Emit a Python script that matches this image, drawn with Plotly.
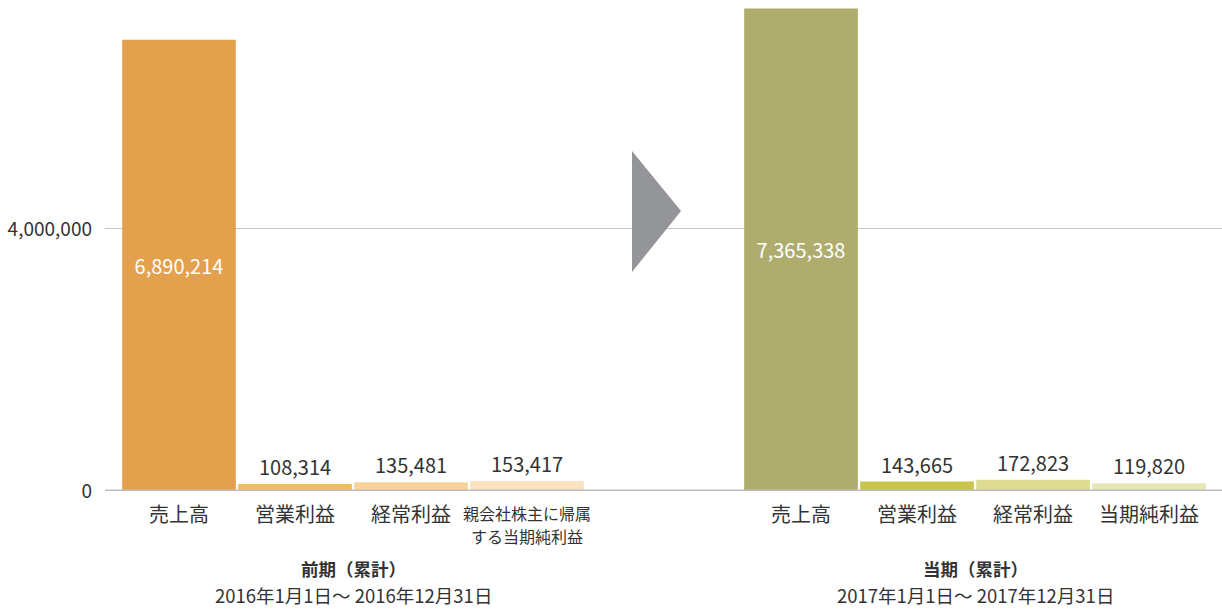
import plotly.graph_objects as go

# ---- data ----
categories_prev = ["売上高", "営業利益", "経常利益", "親会社株主に帰属<br>する当期純利益"]
values_prev = [6890214, 108314, 135481, 153417]
categories_curr = ["売上高", "営業利益", "経常利益", "当期純利益"]
values_curr = [7365338, 143665, 172823, 119820]
group_titles = ["前期（累計）", "当期（累計）"]
group_periods = ["2016年1月1日～ 2016年12月31日", "2017年1月1日～ 2017年12月31日"]
y_tickvals = [0, 4000000]
y_ticktext = ["0", "4,000,000"]

# ---- style ----
FONT = "Noto Sans CJK JP"
TEXT = "#333333"
colors_prev = ["#E3A14E", "#F0BC60", "#F6D39A", "#FBE3C0"]
colors_curr = ["#AEAD6D", "#C9C547", "#DEDC93", "#E7E6B6"]
GROUP_OFFSET = 5.362   # slot distance between group starts
BIG = 1_000_000

x_prev = [i for i in range(len(values_prev))]
x_curr = [i + GROUP_OFFSET for i in range(len(values_curr))]

def fmt(v):
    return f"{v:,}"

fig = go.Figure()
for xs, vals, cols in [(x_prev, values_prev, colors_prev), (x_curr, values_curr, colors_curr)]:
    fig.add_trace(go.Bar(
        x=xs, y=vals,
        marker=dict(color=cols, line=dict(width=0)),
        width=0.98,
        text=[fmt(v) for v in vals],
        textposition=["inside" if v > BIG else "outside" for v in vals],
        insidetextanchor="middle",
        textfont=dict(family=FONT, size=20,
                      color=["#FFFFFF" if v > BIG else TEXT for v in vals]),
        constraintext="none",
        cliponaxis=False,
        hoverinfo="skip",
        showlegend=False,
    ))

annotations = []
for xs, cats in [(x_prev, categories_prev), (x_curr, categories_curr)]:
    for x, c in zip(xs, cats):
        lines = c.split("<br>")
        multi = len(lines) > 1
        for k, line in enumerate(lines):
            annotations.append(dict(
                x=x, y=0, xref="x", yref="paper", yanchor="middle",
                yshift=-22 - 23 * k, text=line, showarrow=False, borderpad=0,
                font=dict(family=FONT, size=16 if multi else 20, color=TEXT),
            ))

for xs, title, period in [(x_prev, group_titles[0], group_periods[0]),
                          (x_curr, group_titles[1], group_periods[1])]:
    cx = (xs[0] + xs[-1]) / 2
    annotations.append(dict(x=cx, y=0, xref="x", yref="paper", yanchor="middle",
                            yshift=-77, text=f"<b>{title}</b>", showarrow=False,
                            borderpad=0,
                            font=dict(family=FONT, size=17.5, color=TEXT)))
    annotations.append(dict(x=cx, y=0, xref="x", yref="paper", yanchor="middle",
                            yshift=-104, text=period, showarrow=False,
                            borderpad=0,
                            font=dict(family=FONT, size=18.5, color=TEXT)))

shapes = [
    # baseline
    dict(type="line", xref="paper", yref="y", x0=0, x1=1, y0=0, y1=0,
         line=dict(color="#BDBDBF", width=3), layer="above"),
    # arrow between periods
    dict(type="path", xref="paper", yref="paper",
         path="M 0.4718,0.6925 L 0.5157,0.5703 L 0.4718,0.4460 Z",
         fillcolor="#939598", line=dict(width=0), layer="above"),
]

fig.update_layout(
    width=1222, height=609,
    margin=dict(l=105, r=0, t=0, b=118),
    paper_bgcolor="white", plot_bgcolor="white",
    font=dict(family=FONT, color=TEXT),
    barmode="overlay",
    xaxis=dict(range=[-0.638, 8.991], showticklabels=False, showgrid=False,
               zeroline=False, showline=False, fixedrange=True),
    yaxis=dict(range=[0, 7496000], tickvals=y_tickvals, ticktext=y_ticktext,
               showgrid=True, gridcolor="#C6C6C8", gridwidth=1,
               zeroline=False, showline=False, ticks="",
               ticklabelstandoff=12,
               tickfont=dict(family=FONT, size=19, color=TEXT),
               fixedrange=True),
    annotations=annotations,
    shapes=shapes,
)

fig.write_html(
    "out.html",
    config={"displayModeBar": False},
    post_script="document.body.style.margin='0';document.body.style.overflow='hidden';",
)
